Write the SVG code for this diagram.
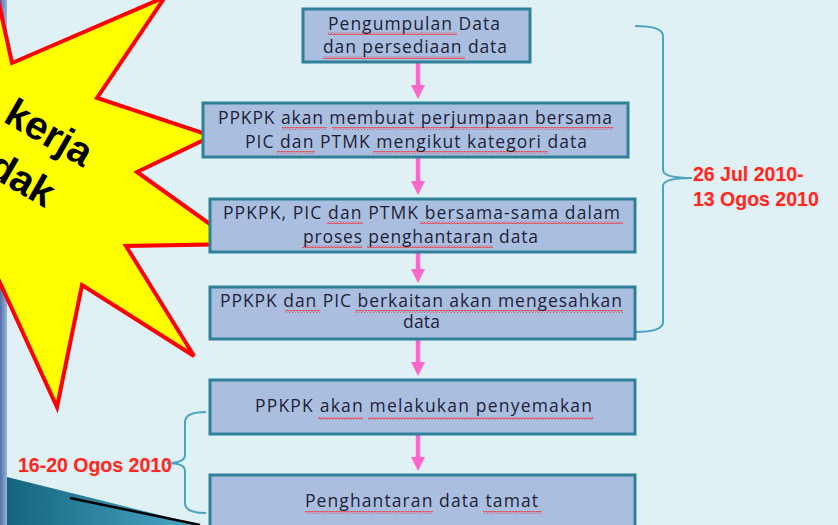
<svg xmlns="http://www.w3.org/2000/svg" width="838" height="525" viewBox="0 0 838 525">
<defs>
<style>
.box{fill:#aabfe0;stroke:#2f8098;stroke-width:3}
.bt{font-family:"Open Sans","DejaVu Sans",sans-serif;font-size:17.5px;fill:#1e1e3a}
.dt{font-family:"Liberation Sans",Arial,sans-serif;font-size:19.5px;font-weight:bold;fill:#ff2626;stroke:#ffd0a0;stroke-width:0.4;paint-order:stroke}
.conn{stroke:#ff66cc;stroke-width:4.5;fill:none}
.brk{stroke:#4aa3c0;stroke-width:2;fill:none}
.sq{fill:url(#squig)}
.star{font-family:"Liberation Sans",Arial,sans-serif;font-weight:bold;font-size:40px;fill:#000}
</style>
<pattern id="squig" width="3" height="3" patternUnits="userSpaceOnUse">
<polyline points="0,2.5 1.5,0.5 3,2.5" fill="none" stroke="#ff1a1a" stroke-width="0.9"/>
</pattern>
<marker id="ah" viewBox="0 0 14 14" refX="4" refY="7" markerWidth="14" markerHeight="14" markerUnits="userSpaceOnUse" orient="auto">
<path d="M0,0 L14,7 L0,14 z" fill="#ff66cc"/>
</marker>
<linearGradient id="strip" x1="0" y1="0" x2="1" y2="0">
<stop offset="0" stop-color="#5070a6"/><stop offset="1" stop-color="#9ab5dd"/>
</linearGradient>
<linearGradient id="wedge" x1="0" y1="0" x2="1" y2="0">
<stop offset="0" stop-color="#15657f"/><stop offset="1" stop-color="#4aa8c8"/>
</linearGradient>
</defs>

<rect width="838" height="525" fill="#e0f1f6"/>
<rect x="0" y="0" width="7" height="525" fill="url(#strip)"/>
<polygon points="7,477 200,525 7,525" fill="url(#wedge)"/>
<line x1="70" y1="498" x2="200" y2="525" stroke="#000" stroke-width="2.5"/>

<g id="burst">
<polygon points="165,-3 97,98 212,136 137,172 238,244 126,246 194,356 82,285 57,407 -15,250 -100,150 -3,-5 12,63" fill="#ffff00" stroke="#ff0000" stroke-width="4" stroke-linejoin="miter"/>
<g transform="translate(2,121) rotate(30)">
<text class="star" x="0" y="0">kerja</text>
<text class="star" x="12" y="54">dak</text>
</g>
</g>

<g id="connectors">
<line class="conn" x1="418" y1="62" x2="418" y2="89" marker-end="url(#ah)"/>
<line class="conn" x1="418" y1="157" x2="418" y2="185" marker-end="url(#ah)"/>
<line class="conn" x1="418" y1="252" x2="418" y2="273" marker-end="url(#ah)"/>
<line class="conn" x1="418" y1="339" x2="418" y2="366" marker-end="url(#ah)"/>
<line class="conn" x1="418" y1="434" x2="418" y2="461" marker-end="url(#ah)"/>
<path class="brk" d="M635,26 Q663,26 663,36 L663,170 Q663,178 692,178 Q663,178 663,186 L663,322 Q663,332 635,332"/>
<path class="brk" d="M206,412 Q185,412 185,422 L185,455 Q185,463 167,463 Q185,463 185,471 L185,503 Q185,513 206,513"/>
</g>

<g id="n1">
<rect class="box" x="303" y="9" width="227" height="53"/>
<rect class="sq" x="328" y="32" width="129" height="3"/>
<rect class="sq" x="323" y="56" width="142" height="3"/>
<text class="bt" x="328" y="29.5" textLength="172" lengthAdjust="spacing">Pengumpulan Data</text>
<text class="bt" x="323" y="52.5" textLength="184" lengthAdjust="spacing">dan persediaan data</text>
</g>

<g id="n2">
<rect class="box" x="203" y="103" width="425" height="54"/>
<rect class="sq" x="282" y="127" width="45" height="3"/>
<rect class="sq" x="332" y="127" width="281" height="3"/>
<rect class="sq" x="277" y="151" width="38" height="3"/>
<rect class="sq" x="373" y="151" width="175" height="3"/>
<text class="bt" x="218" y="124" textLength="394" lengthAdjust="spacing">PPKPK akan membuat perjumpaan bersama</text>
<text class="bt" x="245" y="148" textLength="342" lengthAdjust="spacing">PIC dan PTMK mengikut kategori data</text>
</g>

<g id="n3">
<rect class="box" x="210" y="199" width="425" height="53"/>
<rect class="sq" x="327" y="221" width="36" height="3"/>
<rect class="sq" x="420" y="221" width="203" height="3"/>
<rect class="sq" x="302" y="245" width="60" height="3"/>
<rect class="sq" x="367" y="245" width="126" height="3"/>
<text class="bt" x="223" y="219" textLength="397" lengthAdjust="spacing">PPKPK, PIC dan PTMK bersama-sama dalam</text>
<text class="bt" x="303" y="243" textLength="235" lengthAdjust="spacing">proses penghantaran data</text>
</g>

<g id="n4">
<rect class="box" x="210" y="287" width="425" height="52"/>
<rect class="sq" x="285" y="310" width="35" height="3"/>
<rect class="sq" x="355" y="310" width="268" height="3"/>
<text class="bt" x="220" y="307" textLength="402" lengthAdjust="spacing">PPKPK dan PIC berkaitan akan mengesahkan</text>
<text class="bt" x="403" y="328" textLength="37" lengthAdjust="spacing">data</text>
</g>

<g id="n5">
<rect class="box" x="210" y="380" width="425" height="54"/>
<rect class="sq" x="318" y="417" width="45" height="3"/>
<rect class="sq" x="368" y="417" width="225" height="3"/>
<text class="bt" x="255" y="412" textLength="337" lengthAdjust="spacing">PPKPK akan melakukan penyemakan</text>
</g>

<g id="n6">
<rect class="box" x="210" y="475" width="425" height="70"/>
<rect class="sq" x="305" y="511" width="128" height="3"/>
<rect class="sq" x="483" y="511" width="59" height="3"/>
<text class="bt" x="305" y="507" textLength="233" lengthAdjust="spacing">Penghantaran data tamat</text>
</g>

<g id="label-right">
<text class="dt" x="693" y="181">26 Jul 2010-</text>
<text class="dt" x="693" y="206">13 Ogos 2010</text>
</g>
<g id="label-left">
<text class="dt" x="18" y="472">16-20 Ogos 2010</text>
</g>
</svg>
